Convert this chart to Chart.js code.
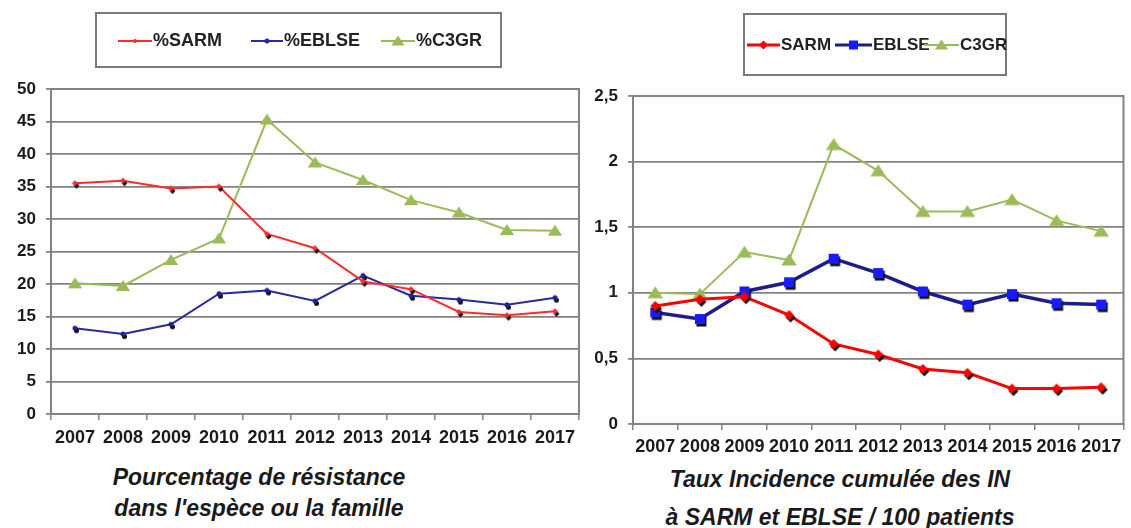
<!DOCTYPE html>
<html>
<head>
<meta charset="utf-8">
<script src="https://cdn.jsdelivr.net/npm/chart.js@4/dist/chart.umd.min.js"></script>
<style>
  body { margin: 0; background: #fff; }
  #page { position: relative; width: 1131px; height: 528px; overflow: hidden; background: #fff; }
  canvas { position: absolute; top: 0; }
  .legend { position: absolute; border: 2px solid #7a7a7a; box-sizing: border-box; }
  .item { position: absolute; display: flex; align-items: center; }
  .item span { font-family: 'Liberation Sans', Arial, sans-serif; font-weight: bold; color: #222; }
  .caption { position: absolute; text-align: center; font-family: 'Liberation Sans', Arial, sans-serif;
             font-style: italic; font-weight: bold; color: #1a1a1a; }
</style>
</head>
<body>
<div id="page">
  <canvas id="leftChart" width="585" height="460" style="left:0px"></canvas>
  <canvas id="rightChart" width="546" height="460" style="left:585px"></canvas>

  <div class="legend" style="left:95px; top:12px; width:407px; height:56px"></div>
  <div class="legend" style="left:743px; top:13px; width:264px; height:63px"></div>

  <div class="caption" style="left:0px; top:462px; width:518px; font-size:23px; line-height:31px">
    Pourcentage de résistance<br>dans l'espèce ou la famille
  </div>
  <div class="caption" style="left:640px; top:460px; width:400px; font-size:23px; line-height:38px">
    Taux Incidence cumulée des IN<br>à SARM et EBLSE / 100 patients
  </div>
</div>

<script>
// Data
const years = ['2007', '2008', '2009', '2010', '2011', '2012', '2013', '2014', '2015', '2016', '2017'];

// left chart: % resistance
const sarmPct  = [35.5, 35.9, 34.7, 35.0, 27.7, 25.5, 20.4, 19.2, 15.7, 15.2, 15.8];
const eblsePct = [13.2, 12.3, 13.8, 18.5, 19.0, 17.4, 21.3, 18.2, 17.6, 16.8, 17.9];
const c3grPct  = [20.1, 19.7, 23.7, 27.0, 45.3, 38.7, 36.0, 32.9, 31.0, 28.3, 28.2];

// right chart: cumulative incidence / 100 patients
const sarmRate  = [0.90, 0.95, 0.97, 0.83, 0.61, 0.53, 0.42, 0.39, 0.27, 0.27, 0.28];
const eblseRate = [0.85, 0.80, 1.01, 1.08, 1.26, 1.15, 1.01, 0.91, 0.99, 0.92, 0.91];
const c3grRate  = [1.00, 0.99, 1.31, 1.25, 2.13, 1.93, 1.62, 1.62, 1.71, 1.55, 1.47];

// legend labels
const leftLabels  = ['%SARM', '%EBLSE', '%C3GR'];
const rightLabels = ['SARM', 'EBLSE', 'C3GR'];

window.onload = init

//Draws one marker shape centered on (cx, cy)
function drawShape(ctx, shape, cx, cy, s){
    ctx.beginPath();
    if (shape == 'circle'){
        ctx.arc(cx, cy, s/2, 0, Math.PI*2);
    } else if (shape == 'diamond'){
        ctx.moveTo(cx, cy - s/2); ctx.lineTo(cx + s/2, cy); ctx.lineTo(cx, cy + s/2); ctx.lineTo(cx - s/2, cy);
    } else if (shape == 'square'){
        ctx.rect(cx - s/2, cy - s/2, s, s);
    } else if (shape == 'triangle'){
        ctx.moveTo(cx, cy - s*0.5); ctx.lineTo(cx + s*0.6, cy + s*0.42); ctx.lineTo(cx - s*0.6, cy + s*0.42);
    }
    ctx.closePath();
    ctx.fill();
}

//Marker image for pointStyle, with the black offset shadow Excel draws
function marker(shape, size, color, shadow){
    let c = document.createElement('canvas');
    c.width = 24; c.height = 24;
    let ctx = c.getContext('2d');
    if (shadow){
        ctx.fillStyle = '#111';
        drawShape(ctx, shape, 13.5, 14.5, size);
    }
    ctx.fillStyle = color;
    drawShape(ctx, shape, 12, 12, size);
    return c;
}

//Legend sample: a line with the marker in the middle
function legendIcon(width, lineColor, lineWidth, shape, size, color){
    let c = document.createElement('canvas');
    c.width = width; c.height = 16;
    c.style.position = 'static';
    let ctx = c.getContext('2d');
    ctx.strokeStyle = lineColor;
    ctx.lineWidth = lineWidth;
    ctx.beginPath(); ctx.moveTo(0, 8); ctx.lineTo(width, 8); ctx.stroke();
    ctx.fillStyle = color;
    drawShape(ctx, shape, width/2, 8, size);
    return c;
}

function addLegendItem(left, top, icon, text, fontSize){
    let div = document.createElement('div');
    div.className = 'item';
    div.style.left = left + 'px';
    div.style.top = top + 'px';
    div.appendChild(icon);
    let span = document.createElement('span');
    span.textContent = text;
    span.style.fontSize = fontSize + 'px';
    span.style.marginLeft = '1px';
    div.appendChild(span);
    document.getElementById('page').appendChild(div);
}

//Frame around the plot area
const plotBox = {
    id: 'plotBox',
    beforeDatasetsDraw(chart){
        const a = chart.chartArea;
        const ctx = chart.ctx;
        ctx.save();
        ctx.strokeStyle = '#828282';
        ctx.lineWidth = 2;
        ctx.strokeRect(a.left, a.top, a.right - a.left, a.bottom - a.top);
        ctx.restore();
    }
};

function makeOptions(yMax, yStep, yWidth, pad, xHeight, xPad, comma){
    return {
        responsive: false,
        animation: false,
        layout: { padding: pad },
        plugins: { legend: { display: false }, tooltip: { enabled: false } },
        scales: {
            x: {
                offset: true,
                grid: { offset: true, drawOnChartArea: false, drawTicks: true, tickLength: 6, color: '#828282', lineWidth: 1.5 },
                border: { display: true, color: '#828282', width: 2 },
                ticks: { autoSkip: false, maxRotation: 0, minRotation: 0, padding: xPad, color: '#1a1a1a',
                         font: { family: "'Liberation Sans', Arial, sans-serif", size: 18, weight: 'bold' } },
                afterFit: function(scale){ scale.height = xHeight; }
            },
            y: {
                min: 0, max: yMax,
                grid: { color: '#828282', lineWidth: 1.8, tickLength: 5 },
                border: { display: true, color: '#828282', width: 2 },
                ticks: { stepSize: yStep, padding: 10, color: '#1a1a1a',
                         font: { family: "'Liberation Sans', Arial, sans-serif", size: 17, weight: 'bold' },
                         callback: function(v){ return comma ? String(v).replace('.', ',') : v; } },
                afterFit: function(scale){ scale.width = yWidth; }
            }
        }
    };
}

function init(){
    //Left chart: percentage of resistance
    const leftSarm  = marker('diamond', 6, '#ff2a2a', true);
    const leftEblse = marker('circle', 5, '#2020a0', true);
    const leftC3gr  = marker('triangle', 12, '#9bbb59', false);

    new Chart(document.getElementById('leftChart'), {
        type: 'line',
        data: {
            labels: years,
            datasets: [
                { label: leftLabels[0], data: sarmPct, borderColor: '#ff2a2a', borderWidth: 2, pointStyle: leftSarm, tension: 0 },
                { label: leftLabels[1], data: eblsePct, borderColor: '#2a2a9c', borderWidth: 2, pointStyle: leftEblse, tension: 0 },
                { label: leftLabels[2], data: c3grPct, borderColor: '#9bbb59', borderWidth: 2, pointStyle: leftC3gr, tension: 0 }
            ]
        },
        options: makeOptions(50, 5, 51, { top: 89, left: 0, right: 3, bottom: 6 }, 40, 7, false),
        plugins: [plotBox]
    });

    //Right chart: cumulated incidence
    const rightSarm  = marker('diamond', 10, '#ff0000', true);
    const rightEblse = marker('square', 10, '#1a1aff', true);
    const rightC3gr  = marker('triangle', 13, '#9bbb59', false);

    new Chart(document.getElementById('rightChart'), {
        type: 'line',
        data: {
            labels: years,
            datasets: [
                { label: rightLabels[0], data: sarmRate, borderColor: '#ff0000', borderWidth: 3, pointStyle: rightSarm, tension: 0 },
                { label: rightLabels[1], data: eblseRate, borderColor: '#1c1c8e', borderWidth: 3.5, pointStyle: rightEblse, tension: 0 },
                { label: rightLabels[2], data: c3grRate, borderColor: '#9bbb59', borderWidth: 2, pointStyle: rightC3gr, tension: 0 }
            ]
        },
        options: makeOptions(2.5, 0.5, 48, { top: 96, left: 0, right: 5, bottom: 6 }, 30, 6, true),
        plugins: [plotBox]
    });

    //Legends (HTML, boxed like the Excel ones)
    addLegendItem(118, 30, legendIcon(34, '#ff2a2a', 2, 'circle', 4, '#ff2a2a'), leftLabels[0], 18);
    addLegendItem(251, 30, legendIcon(32, '#2a2a9c', 2, 'circle', 5, '#2a2a9c'), leftLabels[1], 18);
    addLegendItem(381, 30, legendIcon(34, '#9bbb59', 2, 'triangle', 11, '#9bbb59'), leftLabels[2], 18);

    addLegendItem(747, 35, legendIcon(33, '#ff0000', 3, 'diamond', 9, '#ff0000'), rightLabels[0], 17);
    addLegendItem(835, 35, legendIcon(37, '#1c1c8e', 3, 'square', 9, '#1a1aff'), rightLabels[1], 17);
    addLegendItem(924, 35, legendIcon(35, '#9bbb59', 2, 'triangle', 11, '#9bbb59'), rightLabels[2], 17);
}
</script>
</body>
</html>
